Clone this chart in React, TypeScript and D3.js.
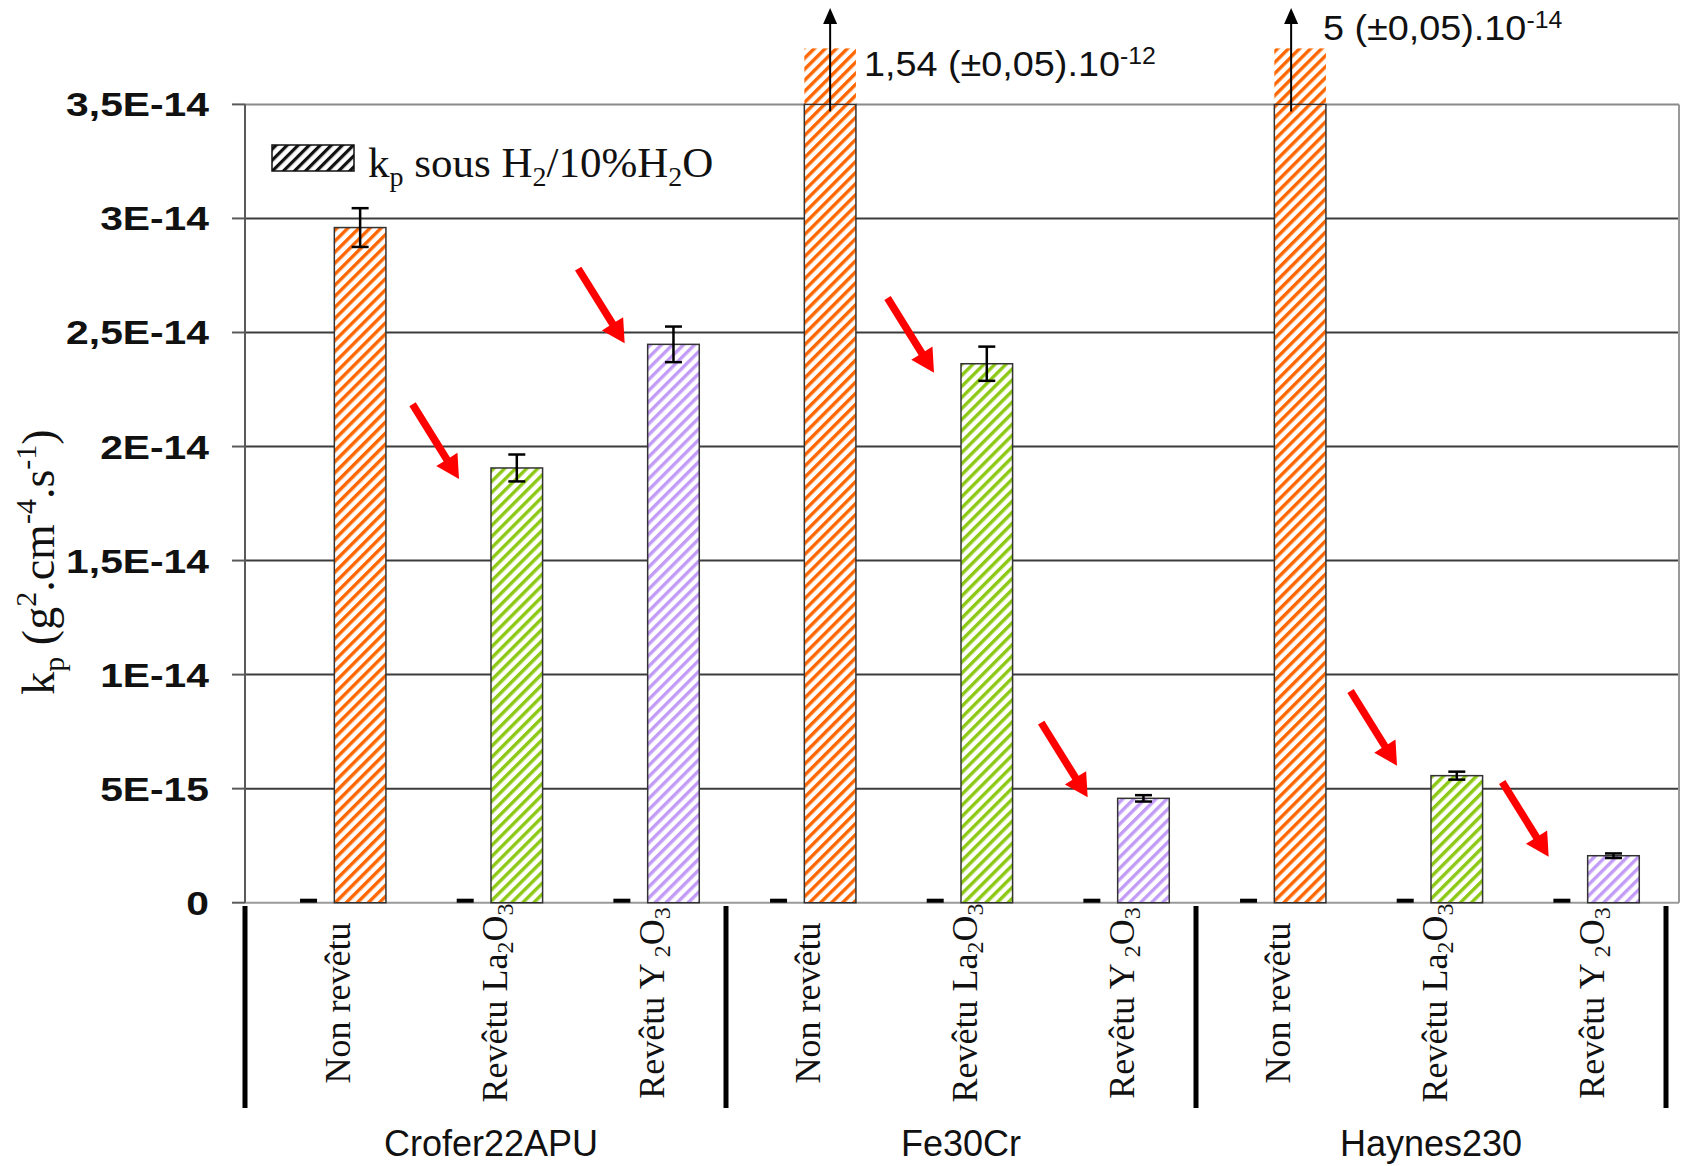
import React from "react";
import * as d3 from "d3";

// ---------------- data ----------------
const groups = ["Crofer22APU", "Fe30Cr", "Haynes230"];
const treatments = ["Non revêtu", "Revêtu La2O3", "Revêtu Y2O3"];
// k_p under H2/10%H2O (g².cm⁻⁴.s⁻¹), order: group × treatment
const kpValues = [2.96e-14, 1.906e-14, 2.448e-14, 1.54e-12, 2.363e-14, 0.4575e-14, 5e-14, 0.557e-14, 0.206e-14];
const kpErrors = [0.085e-14, 0.059e-14, 0.078e-14, 0.05e-12, 0.075e-14, 0.014e-14, 0.05e-14, 0.0175e-14, 0.01e-14];
// second (empty) series shown only by its error caps at zero
const otherValues = [0, 0, 0, 0, 0, 0, 0, 0, 0];
const yTicks = [0, 0.5e-14, 1e-14, 1.5e-14, 2e-14, 2.5e-14, 3e-14, 3.5e-14];
const yTickLabels = ["0", "5E-15", "1E-14", "1,5E-14", "2E-14", "2,5E-14", "3E-14", "3,5E-14"];
const offscaleNotes = [
  { index: 3, base: "1,54 (±0,05).10", exp: "-12" },
  { index: 6, base: "5 (±0,05).10", exp: "-14" },
];
const arrowTargets = [1, 2, 4, 5, 7, 8];

// ---------------- layout ----------------
const W = 1687;
const H = 1166;
const plotLeft = 245;
const plotRight = 1679;
const plotTop = 104.4;
const plotBottom = 902.7;
const barW = 51.6;
const treatmentColors = ["#FF6600", "#8CC814", "#C29BF7"];
// placement of the red arrow tips relative to the top-left corner of the pointed bar
const arrowTipShift = [
  [-32, 11],
  [-23, -1],
  [-27, 9],
  [-30, -1],
  [-34, -10],
  [-39, 1],
];
const noteLayout = [
  { arrowDx: 0, textDx: 8, textY: 76 },
  { arrowDx: -9, textDx: -3, textY: 40 },
];

const categories = groups.flatMap((g) => treatments.map((t) => `${g}|${t}`));

const x = d3.scaleBand<string>().domain(categories).range([256, 1666]).padding(0);
const seriesX = d3.scaleBand<string>().domain(["other", "kp"]).range([0, 2 * barW]).padding(0);
const y = d3.scaleLinear().domain([0, 3.5e-14]).range([plotBottom, plotTop]);
const yMax = y.domain()[1];

function catCenter(i: number) {
  return (x(categories[i]) as number) + x.bandwidth() / 2;
}
function seriesLeft(i: number, s: string) {
  return catCenter(i) - barW + (seriesX(s) as number);
}

function TreatmentLabel({ t }: { t: number }) {
  if (t === 0) return <>Non revêtu</>;
  if (t === 1)
    return (
      <>
        Revêtu La
        <tspan fontSize="24" dy="6">2</tspan>
        <tspan dy="-6">O</tspan>
        <tspan fontSize="24" dy="6">3</tspan>
      </>
    );
  return (
    <>
      Revêtu Y
      <tspan fontSize="24" dy="6"> 2</tspan>
      <tspan dy="-6">O</tspan>
      <tspan fontSize="24" dy="6">3</tspan>
    </>
  );
}

function redArrow(tipX: number, tipY: number) {
  const len = 88;
  const ux = 0.528;
  const uy = 0.849;
  const px = -uy;
  const py = ux;
  const headL = 23;
  const headW = 25;
  const shaftW = 7.5;
  const sx = tipX - ux * len;
  const sy = tipY - uy * len;
  const bx = tipX - ux * headL;
  const by = tipY - uy * headL;
  const pts = [
    [sx + (px * shaftW) / 2, sy + (py * shaftW) / 2],
    [bx + (px * shaftW) / 2, by + (py * shaftW) / 2],
    [bx + (px * headW) / 2, by + (py * headW) / 2],
    [tipX, tipY],
    [bx - (px * headW) / 2, by - (py * headW) / 2],
    [bx - (px * shaftW) / 2, by - (py * shaftW) / 2],
    [sx - (px * shaftW) / 2, sy - (py * shaftW) / 2],
  ];
  return pts.map((p) => p.join(",")).join(" ");
}

export default function App() {
  const capW = 17;
  const sepXs = [plotLeft, x(categories[3]) as number, x(categories[6]) as number, x.range()[1]];
  return (
    <div style={{ position: "absolute", left: 0, top: 0 }}>
      <svg width={W} height={H} viewBox={`0 0 ${W} ${H}`} style={{ display: "block", background: "#fff" }}>
        <defs>
          {treatmentColors.map((c, i) => (
            <pattern key={i} id={`hatch${i}`} patternUnits="userSpaceOnUse" width="7.8" height="7.8" patternTransform="rotate(45)">
              <rect width="7.8" height="7.8" fill="#fff" />
              <rect width="3.4" height="7.8" fill={c} />
            </pattern>
          ))}
          <pattern id="hatchLegend" patternUnits="userSpaceOnUse" width="7.8" height="7.8" patternTransform="rotate(45)">
            <rect width="7.8" height="7.8" fill="#fff" />
            <rect width="3.2" height="7.8" fill="#111" />
          </pattern>
        </defs>

        {/* gridlines */}
        {yTicks.map((t, i) => (
          <line
            key={i}
            x1={plotLeft}
            x2={plotRight}
            y1={y(t)}
            y2={y(t)}
            stroke={t === 0 ? "#9a9a9a" : t === yMax ? "#8a8a8a" : "#3c3c3c"}
            strokeWidth={2}
          />
        ))}
        <line x1={plotRight} x2={plotRight} y1={plotTop} y2={plotBottom} stroke="#999" strokeWidth={2} />

        {/* bars */}
        {kpValues.map((v, i) => {
          const t = i % 3;
          const vv = Math.min(v, yMax);
          const bx = seriesLeft(i, "kp");
          return (
            <g key={i}>
              {v > yMax && <rect x={bx} y={y(yMax) - 56} width={barW} height={56} fill={`url(#hatch${t})`} />}
              <rect
                x={bx}
                y={y(vv)}
                width={barW}
                height={y(0) - y(vv)}
                fill={`url(#hatch${t})`}
                stroke="#333"
                strokeWidth={1.5}
              />
            </g>
          );
        })}

        {/* axis */}
        <line x1={plotLeft} x2={plotLeft} y1={plotTop} y2={plotBottom} stroke="#5a5a5a" strokeWidth={2} />
        {yTicks.map((t, i) => (
          <g key={i}>
            <line x1={232} x2={plotLeft} y1={y(t)} y2={y(t)} stroke="#5a5a5a" strokeWidth={2} />
            <text
              transform={`translate(209,${y(t) + 12}) scale(1.2,1)`}
              textAnchor="end"
              fontFamily="'Liberation Sans', Arial, sans-serif"
              fontWeight="bold"
              fontSize={34}
              fill="#111"
            >
              {yTickLabels[i]}
            </text>
          </g>
        ))}

        {/* error bars */}
        {kpValues.map((v, i) => {
          if (v > yMax) return null;
          const cx = seriesLeft(i, "kp") + barW / 2;
          const e = kpErrors[i];
          return (
            <g key={i} stroke="#000" strokeWidth={2.5}>
              <line x1={cx} x2={cx} y1={y(v + e)} y2={y(v - e)} />
              <line x1={cx - capW / 2} x2={cx + capW / 2} y1={y(v + e)} y2={y(v + e)} />
              <line x1={cx - capW / 2} x2={cx + capW / 2} y1={y(v - e)} y2={y(v - e)} />
            </g>
          );
        })}
        {otherValues.map((v, i) => {
          const cx = seriesLeft(i, "other") + barW / 2;
          return (
            <line key={i} x1={cx - capW / 2} x2={cx + capW / 2} y1={y(v) - 2} y2={y(v) - 2} stroke="#000" strokeWidth={4} />
          );
        })}

        {/* off-scale annotations */}
        {offscaleNotes.map((n, k) => {
          const bx = seriesLeft(n.index, "kp");
          const L = noteLayout[k];
          const ax = bx + barW / 2 + L.arrowDx;
          const textX = bx + barW + L.textDx;
          return (
            <g key={k}>
              <line x1={ax} x2={ax} y1={y(yMax) + 7} y2={22} stroke="#000" strokeWidth={2} />
              <polygon points={`${ax},8 ${ax - 7},24 ${ax + 7},24`} fill="#000" />
              <text
                transform={`translate(${textX},${L.textY}) scale(1.08,1)`}
                fontFamily="'Liberation Sans', Arial, sans-serif"
                fontSize={35}
                fill="#111"
              >
                {n.base}
                <tspan fontSize={23} dy={-12}>{n.exp}</tspan>
              </text>
            </g>
          );
        })}

        {/* red arrows */}
        {arrowTargets.map((i, k) => (
          <polygon
            key={i}
            points={redArrow(seriesLeft(i, "kp") + arrowTipShift[k][0], y(kpValues[i]) + arrowTipShift[k][1])}
            fill="#FF0000"
          />
        ))}

        {/* legend */}
        <rect x={272} y={145} width={82} height={26} fill="url(#hatchLegend)" stroke="#111" strokeWidth={1.5} />
        <text x={368} y={177} fontFamily="'Liberation Serif', 'Times New Roman', serif" fontSize={43} fill="#111">
          k<tspan fontSize={28} dy={9}>p</tspan>
          <tspan dy={-9}> sous H</tspan>
          <tspan fontSize={28} dy={9}>2</tspan>
          <tspan dy={-9}>/10%H</tspan>
          <tspan fontSize={28} dy={9}>2</tspan>
          <tspan dy={-9}>O</tspan>
        </text>

        {/* y axis title */}
        <text
          transform="translate(54,562) rotate(-90)"
          textAnchor="middle"
          fontFamily="'Liberation Serif', 'Times New Roman', serif"
          fontSize={46}
          fill="#111"
        >
          k<tspan fontSize={30} dy={10}>p</tspan>
          <tspan dy={-10}> (g</tspan>
          <tspan fontSize={30} dy={-18}>2</tspan>
          <tspan dy={18}>.cm</tspan>
          <tspan fontSize={30} dy={-18}>-4</tspan>
          <tspan dy={18}>.s</tspan>
          <tspan fontSize={30} dy={-18}>-1</tspan>
          <tspan dy={18}>)</tspan>
        </text>

        {/* category labels */}
        {categories.map((c, i) => (
          <text
            key={c}
            transform={`translate(${catCenter(i) + 16},1003) rotate(-90)`}
            textAnchor="middle"
            fontFamily="'Liberation Serif', 'Times New Roman', serif"
            fontSize={36}
            fill="#111"
          >
            <TreatmentLabel t={i % 3} />
          </text>
        ))}

        {/* group separators */}
        {sepXs.map((sx, i) => (
          <line key={i} x1={sx} x2={sx} y1={906} y2={1108} stroke="#000" strokeWidth={5} />
        ))}

        {/* group labels */}
        {groups.map((g, gi) => (
          <text
            key={g}
            x={catCenter(gi * 3 + 1)}
            y={1156}
            textAnchor="middle"
            fontFamily="'Liberation Sans', Arial, sans-serif"
            fontSize={36}
            fill="#111"
          >
            {g}
          </text>
        ))}
      </svg>
    </div>
  );
}
